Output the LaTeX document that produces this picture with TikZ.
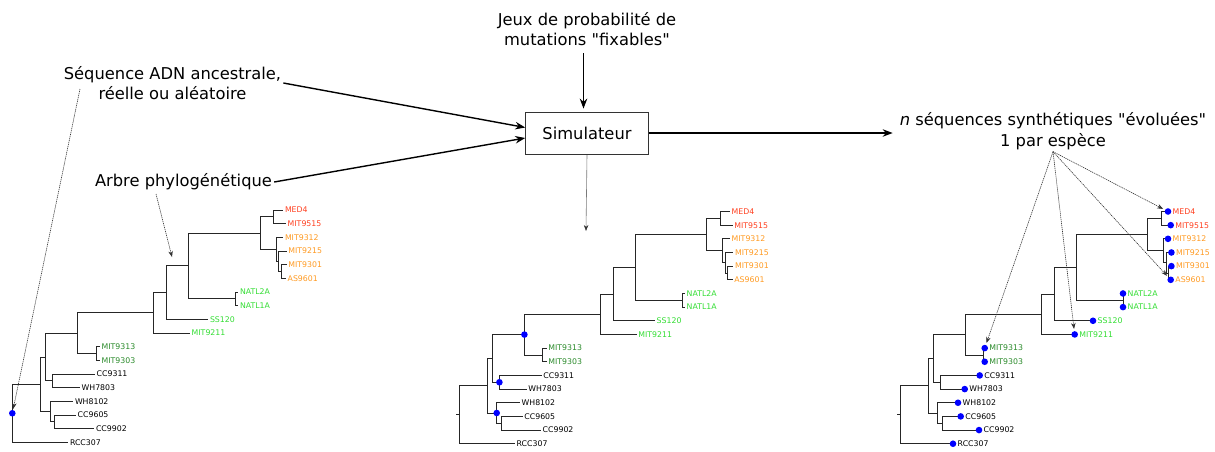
\documentclass[tikz,border=0pt]{standalone}
\usepackage{fontspec}
\setmainfont{DejaVu Sans}[Ligatures=TeXOff]
\usetikzlibrary{arrows.meta,calc}
\definecolor{tred}{HTML}{FF4020}
\definecolor{torange}{HTML}{FF9A22}
\definecolor{tgreen}{HTML}{33DD33}
\definecolor{tdgreen}{HTML}{2A8A2A}
\newcommand\phyrow{13.66}
\tikzset{
  big/.style={font=\fontsize{16.3}{20.5}\selectfont, align=center, inner sep=2pt},
  simbox/.style={draw=black!80, line width=0.8pt, minimum width=122.7pt, minimum height=42pt, font=\fontsize{16.3}{20}\selectfont},
  mainarrow/.style={line width=1.4pt, -{Stealth[length=10pt,width=7.5pt]}},
  dotarrow/.style={line width=0.6pt, black!80, dash pattern=on 1.2pt off 0.8pt, -{Stealth[length=6pt,width=4.5pt]}},
  treeline/.style={line width=0.8pt, black!85},
  leaf/.style={anchor=west, inner sep=1.5pt, text height=5.7pt, text depth=0pt, font=\fontsize{7.8}{9}\selectfont},
  dotn/.style={circle, fill=blue, inner sep=0pt, minimum size=6.6pt},
  pics/phylo/.style={code={
    \coordinate (-root) at (0,{14.88*\phyrow});
    \coordinate (-B) at (28.4,{12.755*\phyrow});
    \coordinate (-C) at (33,{10.76*\phyrow});
    \coordinate (-D) at (65.4,{9.01*\phyrow});
    \coordinate (-Q) at (83.7,{10.5*\phyrow});
    \coordinate (-E) at (40.4,{12.5*\phyrow});
    \coordinate (-F) at (37.7,{14.75*\phyrow});
    \coordinate (-G) at (42,{15.5*\phyrow});
    \coordinate (-H) at (141,{7.52*\phyrow});
    \coordinate (-I) at (154.4,{6.05*\phyrow});
    \coordinate (-J) at (176.4,{4.09*\phyrow});
    \coordinate (-K) at (223,{6.5*\phyrow});
    \coordinate (-L) at (247.7,{1.6875*\phyrow});
    \coordinate (-M) at (261,{0.5*\phyrow});
    \coordinate (-N) at (263.7,{2.875*\phyrow});
    \coordinate (-O) at (266,{3.75*\phyrow});
    \coordinate (-P) at (268.7,{4.5*\phyrow});
    \foreach \n/\x/\k/\c in {MED4/271/0/tred, MIT9515/273.7/1/tred,
        MIT9312/271/2/torange, MIT9215/274.4/3/torange, MIT9301/274.4/4/torange, AS9601/273.7/5/torange,
        NATL2A/226/6/tgreen, NATL1A/226/7/tgreen, SS120/196/8/tgreen, MIT9211/177.7/9/tgreen,
        MIT9313/87.7/10/tdgreen, MIT9303/87.7/11/tdgreen,
        CC9311/82.7/12/black, WH7803/67.7/13/black, WH8102/61/14/black,
        CC9605/63.7/15/black, CC9902/82/16/black, RCC307/56/17/black}{
      \coordinate (-\n) at (\x,{\k*\phyrow});
      \node[leaf, text=\c] (-\n-t) at (-\n) {\n};
    }
    \foreach \p/\q in {root/B, root/RCC307, B/C, B/F, C/D, C/E, D/H, D/Q,
        Q/MIT9313, Q/MIT9303, E/CC9311, E/WH7803, F/WH8102, F/G, G/CC9605, G/CC9902,
        H/I, H/MIT9211, I/J, I/SS120, J/L, J/K, K/NATL2A, K/NATL1A,
        L/M, L/N, M/MED4, M/MIT9515, N/MIT9312, N/O, O/MIT9215, O/P, P/MIT9301, P/AS9601}{
      \draw[treeline] (-\p) |- (-\q);
    }
    \draw[treeline] (-root) -- ++(-3,0);
  }}
}
\begin{document}
\begin{tikzpicture}[x=1pt,y=-1pt]
\useasboundingbox (0,0) rectangle (1215,451);
% trees
\pic (L) at (12.3,210) {phylo};
\pic (M) at (459,211.5) {phylo};
\pic (R) at (900,211.5) {phylo};
% dots
\node[dotn] (L-rootd) at (L-root) {};
\node[dotn] (M-Dd) at (M-D) {};
\node[dotn] (M-Ed) at (M-E) {};
\node[dotn] (M-Fd) at (M-F) {};
\foreach \n in {MED4, MIT9515, MIT9312, MIT9215, MIT9301, AS9601, NATL2A, NATL1A, SS120, MIT9211,
    MIT9313, MIT9303, CC9311, WH7803, WH8102, CC9605, CC9902, RCC307}{
  \node[dotn] (R-\n-d) at ([xshift=-3pt]R-\n) {};
}
% text nodes
\node[big] (seq) at (172.5,83) {Séquence ADN ancestrale,\\réelle ou aléatoire};
\node[big] (arbre) at (183.5,182) {Arbre phylogénétique};
\node[big] (jeux) at (587,29) {Jeux de probabilité de\\mutations "fixables"};
\node[simbox] (sim) at (587,133) {Simulateur};
\node[big] (out) at (1053,131) {\textit{n} séquences synthétiques "évoluées"\\1 par espèce};
% main arrows
\draw[mainarrow] (seq.east) -- ([yshift=5.5pt]sim.west);
\draw[mainarrow] (arbre.east) -- ([yshift=-5pt]sim.west);
\draw[mainarrow, shorten <=5pt, shorten >=3pt] ([xshift=-3.5pt]jeux.south) -- ([xshift=-3.5pt]sim.north);
\draw[mainarrow, shorten >=5pt] (sim.east) -- (sim.east -| out.west);
% dotted arrows
\coordinate (simd) at (586,231);
\coordinate (seqd) at (80,89);
\coordinate (arbs) at (156,194);
\coordinate (arbd) at (172,257);
\draw[dotarrow] (sim.south) -- (simd);
\draw[dotarrow, shorten >=1pt] (seqd) -- (L-rootd);
\draw[dotarrow] (arbs) -- (arbd);
\foreach \n in {MED4, AS9601, MIT9211, MIT9313}{
  \draw[dotarrow, shorten >=2pt] (out.south) -- (R-\n-d);
}
\end{tikzpicture}
\end{document}
